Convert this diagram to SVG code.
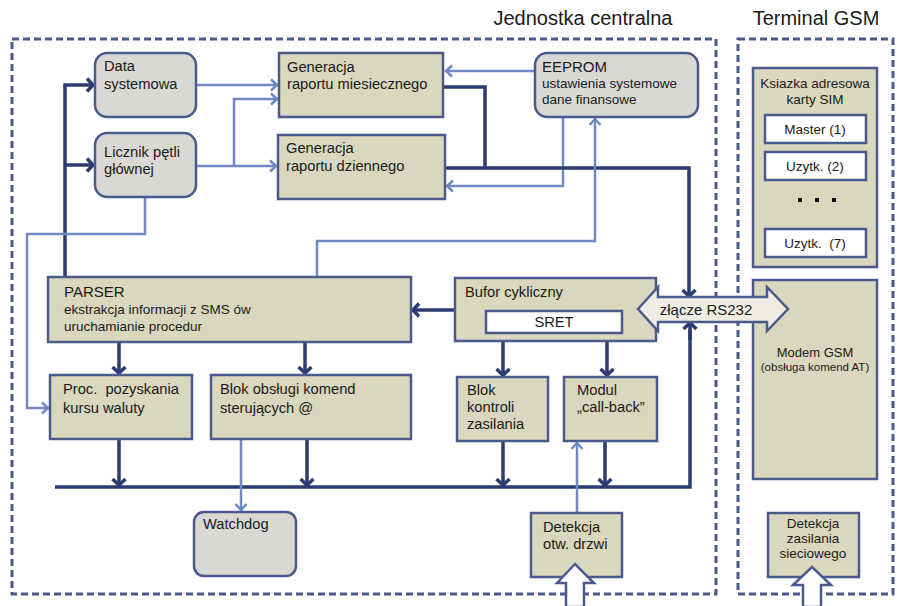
<svg xmlns="http://www.w3.org/2000/svg" width="897" height="606" viewBox="0 0 897 606">
<defs>
<style>
text{font-family:"Liberation Sans",Arial,sans-serif;fill:#1a1a1a;font-size:14.7px;white-space:pre}
.frame{fill:none;stroke:#4b5a8c;stroke-width:3;stroke-dasharray:7 4}
.tan{fill:#d9d7bd;stroke:#4b5a8c;stroke-width:2.5}
.grey{fill:#d9d8d4;stroke:#4b5a8c;stroke-width:2.5}
.white{fill:#fff;stroke:#4b5a8c;stroke-width:2.5}
.dk{fill:none;stroke:#2d3c70;stroke-width:3.5}
.lt{fill:none;stroke:#7088c4;stroke-width:2.5}
.ad{marker-end:url(#ad)}
.al{marker-end:url(#al)}
.c{text-anchor:middle}
.s{font-size:13.5px}
.title{font-size:20px}
</style>
<marker id="ad" viewBox="-10 -8 12 16" refX="0" refY="0" markerWidth="12" markerHeight="16" markerUnits="userSpaceOnUse" orient="auto"><path d="M-7,-6.5 L-1,0 L-7,6.5" fill="none" stroke="#2d3c70" stroke-width="3.5"/></marker>
<marker id="al" viewBox="-10 -8 12 16" refX="0" refY="0" markerWidth="12" markerHeight="16" markerUnits="userSpaceOnUse" orient="auto"><path d="M-7,-5.5 L-1,0 L-7,5.5" fill="none" stroke="#7088c4" stroke-width="2.5"/></marker>
</defs>
<rect width="897" height="606" fill="#fff"/>

<g id="frames">
<rect class="frame" x="12" y="39" width="704" height="555"/>
<rect class="frame" x="738" y="39" width="155" height="555"/>
<text class="title c" x="583" y="25">Jednostka centralna</text>
<text class="title c" x="816" y="25">Terminal GSM</text>
</g>

<g id="connectors">
<path class="dk" d="M65,277 V85"/>
<path class="dk ad" d="M63.3,85 H94"/>
<path class="dk ad" d="M65,165 H94"/>
<path class="lt al" d="M196,85 H278"/>
<path class="lt al" d="M196,166 H277"/>
<path class="lt al" d="M234,166 V99 H278"/>
<path class="lt al" d="M535,71 H445"/>
<path class="lt al" d="M563,117 V186 H446"/>
<path class="dk" d="M443,87 H485 V168"/>
<path class="dk ad" d="M445,168 H689 V297"/>
<path class="lt al" d="M145,197 V234 H27 V408 H49"/>
<path class="lt al" d="M317,277 V241 H595 V118"/>
<path class="dk ad" d="M455,310 H412"/>
<path class="dk ad" d="M119,342 V374"/>
<path class="dk ad" d="M305,342 V374"/>
<path class="dk ad" d="M503,341 V376"/>
<path class="dk ad" d="M607,341 V376"/>
<path class="dk" d="M55,487 H690 V330"/>
<path class="dk ad" d="M690,340 V322"/>
<path class="dk ad" d="M119,439 V486"/>
<path class="dk ad" d="M307,439 V486"/>
<path class="dk ad" d="M503,441 V486"/>
<path class="dk ad" d="M605,441 V486"/>
<path class="lt al" d="M241,439 V511"/>
<path class="lt al" d="M577,513 V442"/>
</g>

<g id="data-systemowa">
<rect class="grey" x="95" y="53" width="101" height="64" rx="12"/>
<text x="104" y="71">Data</text>
<text x="104" y="89">systemowa</text>
</g>
<g id="licznik">
<rect class="grey" x="95" y="133" width="101" height="64" rx="12"/>
<text x="104" y="157">Licznik pętli</text>
<text x="104" y="174">głównej</text>
</g>
<g id="gen-mies">
<rect class="tan" x="279" y="53" width="164" height="64"/>
<text x="287" y="72">Generacja</text>
<text x="287" y="89">raportu miesiecznego</text>
</g>
<g id="gen-dzien">
<rect class="tan" x="278" y="135" width="167" height="64"/>
<text x="286" y="153">Generacja</text>
<text x="286" y="171">raportu dziennego</text>
</g>
<g id="eeprom">
<rect class="grey" x="535" y="53" width="163" height="64" rx="12"/>
<text x="542" y="72" style="font-size:15px">EEPROM</text>
<text x="542" y="88" class="s">ustawienia systemowe</text>
<text x="542" y="104" class="s">dane finansowe</text>
</g>
<g id="ksiazka">
<rect class="tan" x="753" y="68" width="124" height="199"/>
<text class="c s" x="815" y="88">Ksiazka adresowa</text>
<text class="c s" x="815" y="104">karty SIM</text>
<rect class="white" x="765" y="115" width="101" height="28"/>
<text class="c s" x="815" y="134">Master (1)</text>
<rect class="white" x="765" y="152" width="101" height="28"/>
<text class="c s" x="815" y="171">Uzytk. (2)</text>
<rect x="798" y="198" width="4" height="4" fill="#111"/>
<rect x="815" y="198" width="4" height="4" fill="#111"/>
<rect x="832" y="198" width="4" height="4" fill="#111"/>
<rect class="white" x="765" y="229" width="101" height="28"/>
<text class="c s" x="815" y="248">Uzytk.  (7)</text>
</g>
<g id="modem">
<rect class="tan" x="753" y="280" width="124" height="199"/>
<text class="c" x="815" y="357" style="font-size:13px">Modem GSM</text>
<text class="c" x="815" y="371" style="font-size:11.5px">(obsługa komend AT)</text>
</g>
<g id="parser">
<rect class="tan" x="48" y="277" width="363" height="65"/>
<text x="64" y="297" style="font-size:15px">PARSER</text>
<text x="64" y="314" class="s">ekstrakcja informacji z SMS ów</text>
<text x="64" y="331" class="s">uruchamianie procedur</text>
</g>
<g id="bufor">
<rect class="tan" x="455" y="278" width="201" height="63"/>
<text x="465" y="297">Bufor cykliczny</text>
<rect class="white" x="486" y="311" width="136" height="22"/>
<text class="c" x="554" y="327">SRET</text>
</g>
<g id="rs232">
<polygon points="638,309 658,287 658,297 767,297 767,287 788,309 767,331 767,322 658,322 658,331" fill="#efede3" stroke="#4b5a8c" stroke-width="2.5"/>
<text class="c" x="706" y="315" style="font-size:15px">złącze RS232</text>
</g>
<g id="proc">
<rect class="tan" x="50" y="375" width="142" height="64"/>
<text x="63" y="394">Proc.  pozyskania</text>
<text x="63" y="413">kursu waluty</text>
</g>
<g id="blok-obslugi">
<rect class="tan" x="211" y="375" width="200" height="64"/>
<text x="220" y="394">Blok obsługi komend</text>
<text x="220" y="413">sterujących @</text>
</g>
<g id="blok-kontroli">
<rect class="tan" x="457" y="377" width="91" height="64"/>
<text x="467" y="395">Blok</text>
<text x="467" y="412">kontroli</text>
<text x="467" y="429">zasilania</text>
</g>
<g id="modul">
<rect class="tan" x="564" y="377" width="93" height="64"/>
<text x="577" y="395">Modul</text>
<text x="577" y="412">„call-back”</text>
</g>
<g id="watchdog">
<rect class="grey" x="194" y="512" width="102" height="64" rx="10"/>
<text x="203" y="529">Watchdog</text>
</g>
<g id="detekcja-drzwi">
<rect class="tan" x="531" y="513" width="91" height="64"/>
<text x="543" y="532">Detekcja</text>
<text x="543" y="549">otw. drzwi</text>
<polygon points="566,607 566,583 557,583 575,564 594,583 584,583 584,607" fill="#fff" stroke="#4b5a8c" stroke-width="2.5"/>
</g>
<g id="detekcja-sieci">
<rect class="tan" x="768" y="513" width="91" height="64"/>
<text class="c s" x="813" y="528">Detekcja</text>
<text class="c s" x="813" y="543">zasilania</text>
<text class="c s" x="813" y="558">sieciowego</text>
<polygon points="803,607 803,585 793,585 812,567 831,585 821,585 821,607" fill="#fff" stroke="#4b5a8c" stroke-width="2.5"/>
</g>
</svg>
